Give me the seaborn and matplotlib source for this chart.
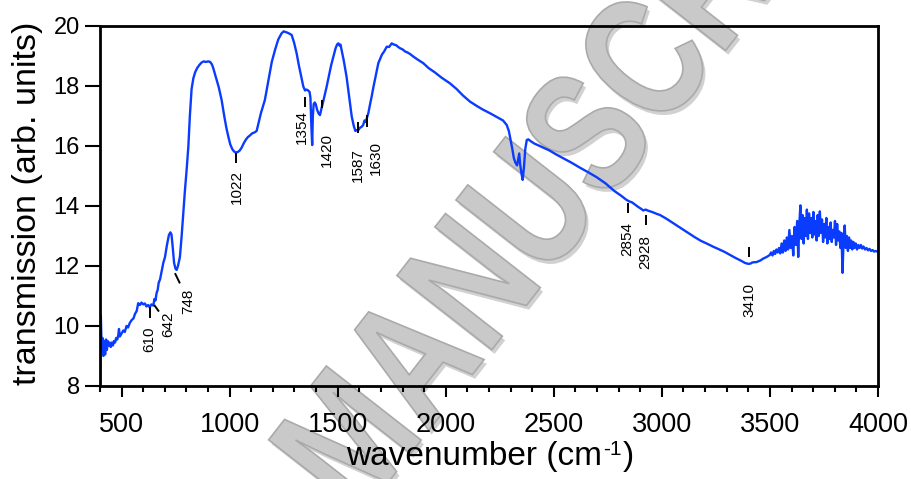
import matplotlib
matplotlib.use("Agg")
import matplotlib.pyplot as plt
import matplotlib.patheffects as pe
from matplotlib.ticker import MultipleLocator
from matplotlib.textpath import TextPath
from matplotlib.font_manager import FontProperties
from matplotlib.patches import PathPatch
from matplotlib.transforms import Affine2D, IdentityTransform
import seaborn as sns
import pandas as pd

# FTIR spectrum (wavenumber in cm-1, transmission in arb. units)
wavenumber = [
    400, 404, 408, 412, 416, 420, 424, 428, 432, 436, 440, 445, 450, 455, 460, 465,
    470, 475, 480, 485, 488, 492, 500, 508, 515, 523, 530, 538, 547, 555, 562, 570,
    577, 585, 592, 600, 608, 615, 623, 630, 638, 647, 652, 657, 662, 667, 672, 678,
    685, 693, 701, 710, 719, 726, 731, 737, 743, 750, 755, 761, 770, 778, 785, 793,
    801, 809, 816, 824, 832, 840, 850, 860, 870, 880, 890, 901, 910, 918, 924, 932,
    940, 950, 963, 975, 985, 994, 1003, 1012, 1020, 1028, 1038, 1047, 1056, 1066,
    1076, 1085, 1094, 1104, 1115, 1125, 1135, 1145, 1163, 1180, 1195, 1210, 1225,
    1240, 1250, 1258, 1266, 1275, 1287, 1298, 1310, 1320, 1330, 1341, 1349, 1356,
    1363, 1370, 1374, 1378, 1382, 1385, 1389, 1394, 1399, 1405, 1412, 1418, 1425,
    1432, 1440, 1449, 1460, 1470, 1480, 1490, 1497, 1503, 1508, 1513, 1518, 1528,
    1541, 1552, 1565, 1575, 1582, 1588, 1595, 1602, 1611, 1618, 1624, 1630, 1636,
    1642, 1650, 1657, 1665, 1672, 1680, 1688, 1696, 1705, 1715, 1727, 1738, 1750,
    1760, 1770, 1780, 1788, 1800, 1812, 1822, 1834, 1850, 1870, 1896, 1920, 1950,
    1980, 2019, 2050, 2080, 2112, 2140, 2170, 2205, 2240, 2265, 2282, 2292, 2300,
    2308, 2315, 2322, 2330, 2336, 2340, 2344, 2350, 2356, 2362, 2368, 2375, 2382,
    2395, 2410, 2440, 2480, 2510, 2544, 2580, 2620, 2660, 2698, 2740, 2780, 2810,
    2837, 2850, 2862, 2875, 2890, 2905, 2914, 2925, 2937, 2955, 2975, 2991, 3020,
    3050, 3080, 3115, 3150, 3180, 3210, 3238, 3260, 3290, 3315, 3340, 3365, 3385,
    3400, 3410, 3420, 3438, 3455, 3470, 3485, 3500,
    3505, 3512, 3518, 3524, 3530, 3536, 3542, 3548, 3554, 3560, 3566, 3572, 3578,
    3584, 3590, 3596, 3602, 3608, 3614, 3620, 3626, 3631, 3636, 3641, 3646, 3651,
    3656, 3661, 3666, 3671, 3676, 3681, 3686, 3691, 3696, 3701, 3706, 3711, 3716,
    3721, 3726, 3731, 3736, 3741, 3746, 3751, 3756, 3761, 3766, 3771, 3776, 3781,
    3786, 3791, 3796, 3801, 3806, 3811, 3816, 3821, 3826, 3831, 3836, 3841, 3846,
    3851, 3856, 3861, 3866, 3871, 3876, 3881, 3886, 3891, 3897, 3903, 3909, 3915,
    3921, 3927, 3933, 3940, 3947, 3954, 3961, 3968, 3975, 3982, 3990, 4000,
]
transmission = [
    8.1, 10.35, 9.2, 9.6, 9.0, 9.5, 9.05, 9.55, 9.2, 9.5, 9.35, 9.45, 9.3, 9.45, 9.35, 9.5,
    9.45, 9.6, 9.55, 9.7, 9.9, 9.65, 9.75, 9.85, 9.8, 10.0, 9.95, 10.1, 10.2, 10.25, 10.4, 10.5,
    10.76, 10.7, 10.78, 10.72, 10.75, 10.65, 10.7, 10.62, 10.72, 10.68, 10.9, 10.85, 11.1, 11.2, 11.45, 11.55,
    11.8, 12.1, 12.3, 12.7, 13.03, 13.12, 13.05, 12.6, 12.1, 11.9, 11.87, 12.0, 12.3, 13.0, 13.7, 14.5,
    15.2, 15.98, 17.0, 17.9, 18.25, 18.45, 18.6, 18.7, 18.78, 18.82, 18.8, 18.82, 18.8, 18.72, 18.6, 18.4,
    18.2, 17.95, 17.53, 17.0, 16.6, 16.31, 16.05, 15.9, 15.82, 15.78, 15.8, 15.85, 15.95, 16.1,
    16.22, 16.3, 16.35, 16.42, 16.45, 16.5, 16.8, 17.1, 17.53, 18.2, 18.8, 19.2, 19.55,
    19.75, 19.82, 19.8, 19.78, 19.75, 19.7, 19.45, 19.09, 18.7, 18.35, 17.98, 17.85, 17.88,
    17.85, 17.8, 17.6, 16.7, 16.03, 17.0, 17.4, 17.45, 17.38, 17.2, 17.08, 17.03, 17.25,
    17.45, 17.7, 17.98, 18.35, 18.7, 18.98, 19.25, 19.38, 19.42, 19.35, 19.38, 19.2, 18.85,
    18.31, 17.7, 16.98, 16.65, 16.5, 16.53, 16.52, 16.6, 16.64, 16.7, 16.85, 16.8, 16.95,
    17.1, 17.4, 17.64, 17.95, 18.2, 18.5, 18.76, 18.9, 19.05, 19.15, 19.31, 19.3, 19.42,
    19.38, 19.36, 19.3, 19.26, 19.22, 19.15, 19.12, 19.07, 18.98, 18.88, 18.76, 18.6, 18.45,
    18.28, 18.09, 17.9, 17.68, 17.48, 17.35, 17.22, 17.09, 16.95, 16.85, 16.7, 16.5, 16.2,
    15.9, 15.6, 15.45, 15.35, 15.6, 15.75, 15.4, 15.1, 14.87, 15.3, 15.9, 16.2, 16.22,
    16.15, 16.08, 15.98, 15.85, 15.72, 15.59, 15.45, 15.28, 15.12, 14.96, 14.75, 14.5, 14.35,
    14.2, 14.15, 14.12, 14.05, 13.97, 13.9, 13.85, 13.88, 13.84, 13.8, 13.74, 13.7, 13.58,
    13.44, 13.3, 13.14, 12.97, 12.84, 12.74, 12.64, 12.57, 12.47, 12.37, 12.27, 12.18, 12.1,
    12.07, 12.08, 12.12, 12.13, 12.18, 12.25, 12.3, 12.37,
    12.45, 12.35, 12.5, 12.4, 12.55, 12.45, 12.6, 12.42, 12.75, 12.45, 12.85, 12.5, 12.95,
    12.55, 13.2, 12.6, 13.0, 12.35, 13.3, 12.7, 13.5, 12.3, 13.4, 14.02, 12.9, 13.7,
    12.75, 13.6, 13.0, 13.88, 12.9, 13.75, 13.1, 13.6, 12.95, 13.8, 13.05, 13.5, 12.85,
    13.7, 13.0, 13.82, 13.1, 13.55, 12.8, 13.4, 12.95, 13.6, 12.75, 13.3, 12.9, 13.45,
    12.8, 13.2, 12.95, 13.5, 12.7, 13.4, 12.85, 13.15, 12.6, 13.1, 11.77, 12.9, 13.35,
    12.6, 13.0, 12.5, 12.95, 12.6, 12.85, 12.55, 12.8, 12.6, 12.75, 12.55, 12.7, 12.6,
    12.7, 12.58, 12.65, 12.55, 12.6, 12.52, 12.57, 12.5, 12.53, 12.48, 12.5, 12.47,
]

# band labels and where each marker/label sits relative to the band (layout only)
band_labels = ["610", "642", "748", "1022", "1354", "1420", "1587", "1630",
               "2854", "2928", "3410"]
# (tick x0 offset, tick y0, tick x1 offset, tick y1, label x offset, label y)
band_layout = [
    (21, 10.63, 21, 10.27, 16, 9.57),
    (9, 10.70, 31, 10.48, 74, 10.07),
    (-1, 11.76, 22, 11.42, 62, 10.83),
    (6, 15.76, 6, 15.42, 11, 14.64),
    (-5, 17.62, -5, 17.29, -19, 16.64),
    (8, 17.53, 8, 17.26, 29, 15.85),
    (5, 16.81, 5, 16.42, 7, 15.37),
    (4, 17.03, 4, 16.64, 45, 15.59),
    (-12, 14.09, -12, 13.76, -13, 12.90),
    (-3, 13.69, -3, 13.37, -3, 12.48),
    (-6, 12.64, -6, 12.31, -6, 10.87),
]

sns.set_style("ticks")
plt.rcParams["font.family"] = ["Liberation Sans", "DejaVu Sans"]
for key in ["text.color", "axes.labelcolor", "xtick.color", "ytick.color", "axes.edgecolor"]:
    plt.rcParams[key] = "black"

df = pd.DataFrame({"wavenumber": wavenumber, "transmission": transmission})

fig = plt.figure(figsize=(9.12, 4.79), dpi=100)
ax = fig.add_axes([0.1096, 0.1942, 0.8531, 0.7516])
ax.set_facecolor("none")

# diagonal watermark, drawn behind the axes in pixel coordinates
wm_path = TextPath((0, 0), "MANUSCRIPT", size=1,
                   prop=FontProperties(family="Liberation Sans", weight="bold"))
wm_tr = Affine2D().scale(134, 175).rotate_deg(52).translate(358, -42)
wm = PathPatch(wm_tr.transform_path(wm_path), facecolor="#c9c9c9", edgecolor="#aaaaaa",
               lw=1.2, zorder=-5, transform=IdentityTransform(),
               path_effects=[pe.SimplePatchShadow(offset=(2, -3), shadow_rgbFace="#9a9a9a", alpha=0.45),
                             pe.Normal()])
fig.add_artist(wm)

sns.lineplot(data=df, x="wavenumber", y="transmission", ax=ax, color="#0a3cff",
             lw=1.7, estimator=None, sort=False)

for lab, (tx0, ty0, tx1, ty1, lx, ly) in zip(band_labels, band_layout):
    w = float(lab)
    ax.plot([w + tx0, w + tx1], [ty0, ty1], color="black", lw=1.4, solid_capstyle="butt")
    ax.text(w + lx, ly, lab, rotation=90, ha="center", va="center", fontsize=11)

ax.set_xlim(400, 4000)
ax.set_ylim(8, 20)
ax.xaxis.set_major_locator(MultipleLocator(500))
ax.xaxis.set_minor_locator(MultipleLocator(100))
ax.yaxis.set_major_locator(MultipleLocator(2))

ax.tick_params(axis="x", which="major", direction="out", length=8, width=1.5,
               labelsize=19.5, pad=11, top=False)
ax.tick_params(axis="x", which="minor", direction="out", length=4.3, width=1.5, top=False)
ax.tick_params(axis="y", which="major", direction="out", length=11, width=1.5,
               labelsize=17, pad=3.5, right=False)
for s in ax.spines.values():
    s.set_linewidth(2)

# x label in three pieces so the raised "-1" keeps its short hyphen
ax.set_xlabel("wavenumber (cm", fontsize=24, ha="right")
ax.xaxis.set_label_coords(0.6452, -0.152)
ax.text(0.6465, -0.1756, "-1", transform=ax.transAxes, fontsize=15,
        ha="left", va="center")
ax.text(0.6725, -0.152, ")", transform=ax.transAxes, fontsize=24,
        ha="left", va="top")
ax.set_ylabel("transmission (arb. units)", fontsize=24.5)
ax.yaxis.set_label_coords(-0.073, 0.506)

fig.savefig("out.png", dpi=100)
